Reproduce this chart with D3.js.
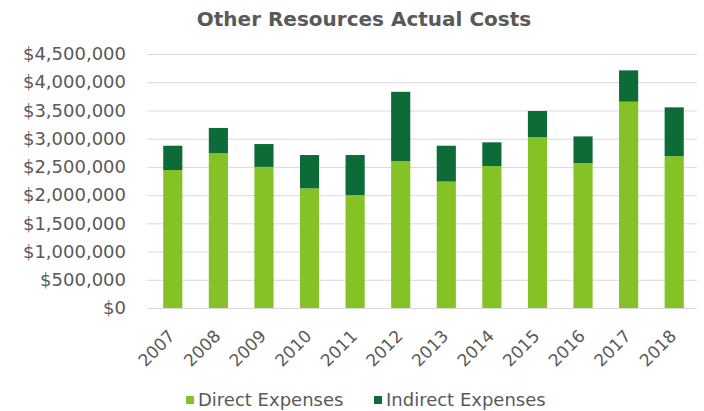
<!DOCTYPE html>
<html>
<head>
<meta charset="utf-8">
<script src="https://cdn.jsdelivr.net/npm/d3@7"></script>
<style>
  html, body { margin: 0; padding: 0; background: #fff; }
  svg { display: block; }
</style>
</head>
<body>
<svg id="chart" width="704" height="411"></svg>
<script>
const years = ["2007","2008","2009","2010","2011","2012","2013","2014","2015","2016","2017","2018"];
const directExpenses =   [2445000, 2740000, 2500000, 2120000, 2000000, 2600000, 2240000, 2515000, 3025000, 2565000, 3655000, 2690000];
const indirectExpenses = [ 430000,  450000,  405000,  590000,  710000, 1230000,  635000,  420000,  465000,  475000,  555000,  865000];
const yTicks = [0, 500000, 1000000, 1500000, 2000000, 2500000, 3000000, 3500000, 4000000, 4500000];
const seriesNames = ["Direct Expenses", "Indirect Expenses"];
const colors = ["#84c225", "#0d6b37"];

(function () {
const svg = d3.select("#chart");
const font = "'DejaVu Sans', Verdana, sans-serif";
const mLeft = 150, mRight = 697, mTop = 54, mBottom = 308;

const x = d3.scaleBand().domain(years).range([mLeft, mRight]).paddingInner(0.58).paddingOuter(0.29);
const y = d3.scaleLinear().domain([0, 4500000]).range([mBottom, mTop]);

// title
svg.append("text").attr("x", 364).attr("y", 26).attr("text-anchor", "middle")
  .attr("font-family", font).attr("font-weight", "bold").attr("font-size", 20)
  .attr("fill", "#595959").text("Other Resources Actual Costs");

// gridlines + y labels
const fmt = d => "$" + d3.format(",")(d);
const yAxis = d3.axisLeft(y).tickValues(yTicks).tickFormat(fmt).tickSize(-(mRight - 147)).tickPadding(21);
const gy = svg.append("g").attr("transform", "translate(147,0)").call(yAxis);
gy.select(".domain").remove();
gy.selectAll(".tick line").attr("stroke", "#d9d9d9").attr("stroke-width", 1);
gy.selectAll(".tick text").attr("font-family", font).attr("font-size", 18).attr("fill", "#595959");

// stacked bars
const rows = years.map((yr, i) => ({ year: yr, direct: directExpenses[i], indirect: indirectExpenses[i] }));
const stack = d3.stack().keys(["direct", "indirect"])(rows);
svg.append("g").selectAll("g").data(stack).join("g")
  .attr("fill", (d, i) => colors[i])
  .selectAll("rect").data(d => d).join("rect")
  .attr("x", d => x(d.data.year))
  .attr("width", x.bandwidth())
  .attr("y", d => y(d[1]))
  .attr("height", d => y(d[0]) - y(d[1]));

// x axis labels
const xAxis = d3.axisBottom(x).tickSize(0).tickPadding(0);
const gx = svg.append("g").attr("transform", "translate(0," + mBottom + ")").call(xAxis);
gx.select(".domain").remove();
gx.selectAll(".tick text")
  .attr("font-family", font).attr("font-size", 17).attr("fill", "#595959")
  .attr("text-anchor", "end").attr("dy", "0.35em")
  .attr("transform", "translate(-1,25) rotate(-45)");

// legend
const legendItems = [{ name: seriesNames[0], x: 186 }, { name: seriesNames[1], x: 374 }];
const lg = svg.append("g");
legendItems.forEach((it, i) => {
  lg.append("rect").attr("x", it.x).attr("y", 396).attr("width", 8).attr("height", 8).attr("fill", colors[i]);
  lg.append("text").attr("x", it.x + 12).attr("y", 406)
    .attr("font-family", font).attr("font-size", 18).attr("fill", "#595959").text(it.name);
});
})();
</script>
</body>
</html>
